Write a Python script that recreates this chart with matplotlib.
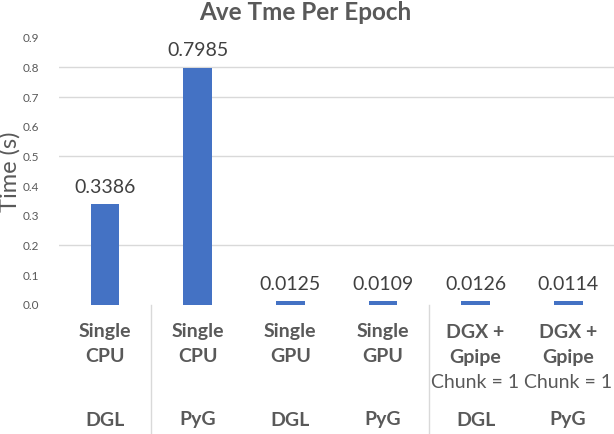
import matplotlib
matplotlib.use("Agg")
import matplotlib.pyplot as plt
from matplotlib.transforms import blended_transform_factory

# ---- data ----
setups = [["Single", "CPU"], ["Single", "CPU"], ["Single", "GPU"], ["Single", "GPU"],
          ["DGX +", "Gpipe", "Chunk = 1"], ["DGX +", "Gpipe", "Chunk = 1"]]
frameworks = ["DGL", "PyG", "DGL", "PyG", "DGL", "PyG"]
times = [0.3386, 0.7985, 0.0125, 0.0109, 0.0126, 0.0114]
value_labels = ["0.3386", "0.7985", "0.0125", "0.0109", "0.0126", "0.0114"]
yticks = [0.0, 0.1, 0.2, 0.3, 0.4, 0.5, 0.6, 0.7, 0.8, 0.9]
ytick_labels = ["0.0", "0.1", "0.2", "0.3", "0.4", "0.5", "0.6", "0.7", "0.8", "0.9"]
visible_grid = [0.2, 0.5, 0.7, 0.8]
group_breaks = [0.5, 3.5]

plt.rcParams['font.family'] = ['Lato', 'DejaVu Sans']

W, H = 614, 434
fig = plt.figure(figsize=(W / 100, H / 100), dpi=100)
left, right, top_px, base_px = 58.7, 614.5, 37.7, 304.7
ax = fig.add_axes([left / W, 1 - base_px / H, (right - left) / W, (base_px - top_px) / H])

bar_color = "#4472C4"
x = list(range(len(times)))
ax.bar(x, times, width=0.31, color=bar_color, zorder=3)
ax.set_xlim(-0.5, len(times) - 0.5)
ax.set_ylim(0, 0.9)

for g in visible_grid:
    ax.axhline(g, color="#d9d9d9", lw=1.0, zorder=1)

ax.set_yticks(yticks)
ax.set_yticklabels(ytick_labels, fontsize=8.5, color="#595959")
ax.tick_params(axis='y', length=0, pad=14)
ax.set_xticks([])
for s in ax.spines.values():
    s.set_visible(False)

for xi, v, lab in zip(x, times, value_labels):
    ax.annotate(lab, (xi, v), xytext=(0, 6), textcoords="offset points",
                ha="center", va="bottom", fontsize=14, color="#404040")

fig.text(10 / W, 1 - 172 / H, "Time (s)", rotation=90, ha="center", va="center",
         fontsize=17, color="#595959")
fig.text(305 / W, 1 - 12 / H, "Ave Tme Per Epoch", ha="center", va="center",
         fontsize=17.5, fontweight="bold", color="#595959")

trans = blended_transform_factory(ax.transData, fig.transFigure)
for xi, lines, fw in zip(x, setups, frameworks):
    for i, line in enumerate(lines):
        weight = "normal" if line.startswith("Chunk") else "bold"
        fig.text(xi, 1 - (332 + 25 * i) / H, line, transform=trans, ha="center",
                 va="center", fontsize=14, fontweight=weight, color="#595959")
    fig.text(xi, 1 - 420 / H, fw, transform=trans, ha="center", va="center",
             fontsize=14, fontweight="bold", color="#595959")

for b in group_breaks:
    ax.plot([b, b], [1 - 305 / H, 0], transform=trans,
            color="#d9d9d9", lw=1.0, clip_on=False)

fig.savefig("out.png", dpi=100)
